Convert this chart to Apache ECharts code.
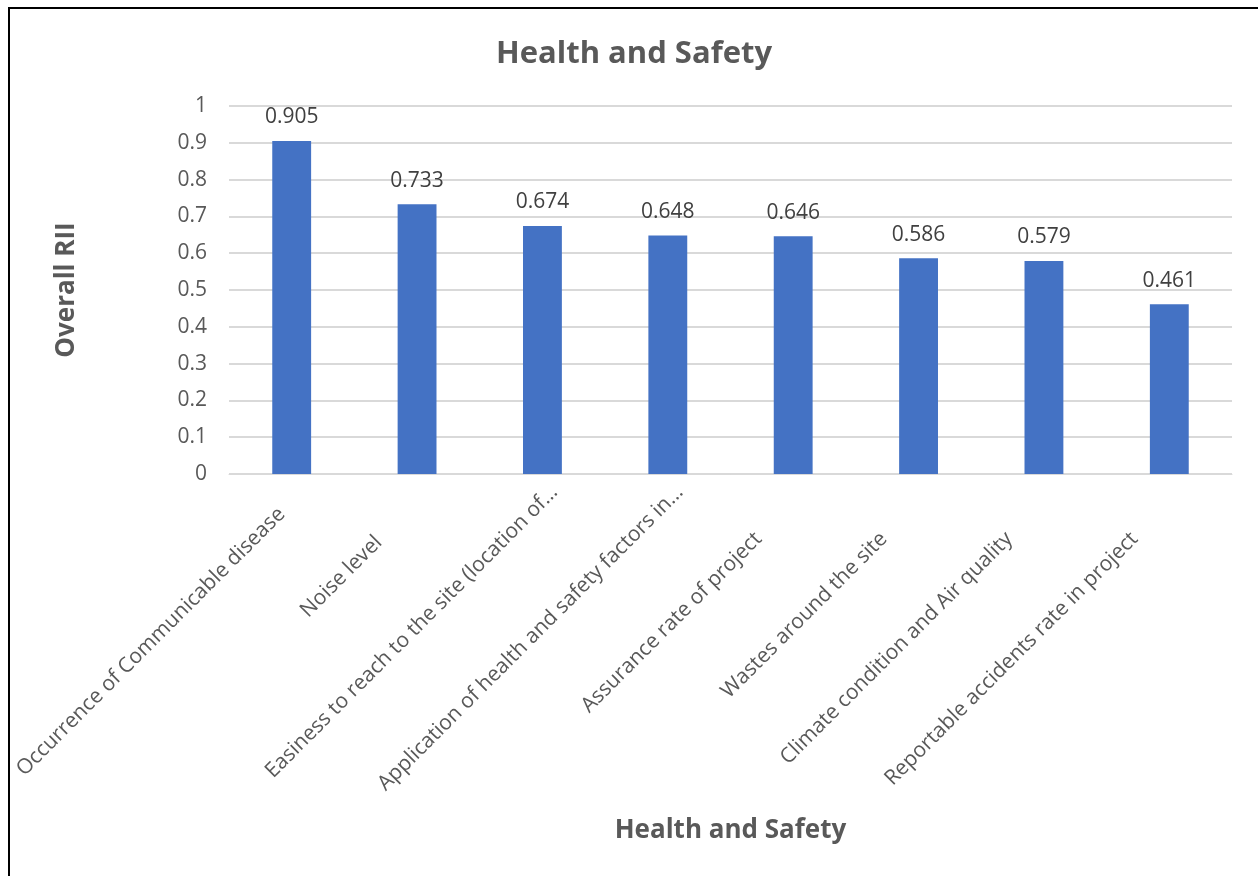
<!DOCTYPE html>
<html>
<head>
<meta charset="utf-8">
<script src="https://cdn.jsdelivr.net/npm/echarts@6/dist/echarts.min.js"></script>
<style>
  html, body { margin: 0; padding: 0; background: #ffffff; }
  #chart { width: 1258px; height: 876px; }
</style>
</head>
<body>
<div id="chart"></div>
<script>
// Health and safety factors with their overall RII scores
const categories = [
  'Occurrence of Communicable disease',
  'Noise level',
  'Easiness to reach to the site (location of…',
  'Application of health and safety factors in…',
  'Assurance rate of project',
  'Wastes around the site',
  'Climate condition and Air quality',
  'Reportable accidents rate in project'
];
const rii = [0.905, 0.733, 0.674, 0.648, 0.646, 0.586, 0.579, 0.461];
const yTicks = [0, 0.1, 0.2, 0.3, 0.4, 0.5, 0.6, 0.7, 0.8, 0.9, 1];

// Slanted category labels: how far each one is pulled back along its own direction (px)
const labelPullBack = [31, 71, 0, 0, 66, 66, 66, 66];

const FONT = '"Open Sans", "Noto Sans", sans-serif';
const chart = echarts.init(document.getElementById('chart'), null, { renderer: 'canvas' });

const labelStyle = {
  interval: 0,
  rotate: 45,
  margin: 15,
  verticalAlign: 'top',
  lineHeight: 55,
  fontFamily: FONT,
  fontSize: 21,
  color: '#595959'
};

chart.setOption({
  backgroundColor: '#ffffff',
  animation: false,
  title: {
    text: 'Health and Safety',
    left: 491,
    top: 34,
    textStyle: { fontFamily: FONT, fontSize: 31, fontWeight: 'bold', color: '#595959' }
  },
  grid: [
    // plot area
    { left: 229, right: 26, top: 106, bottom: 402, containLabel: false, outerBoundsMode: 'none' },
    // same band layout, nudged right, carrying the slanted category labels
    { left: 241, right: 14, top: 106, bottom: 402, containLabel: false, outerBoundsMode: 'none' }
  ],
  xAxis: [{
    type: 'category',
    gridIndex: 0,
    data: categories,
    name: 'Health and Safety',
    nameLocation: 'middle',
    nameGap: 344,
    nameTextStyle: { fontFamily: FONT, fontSize: 26, fontWeight: 'bold', color: '#595959' },
    axisLine: { show: true, lineStyle: { color: '#d9d9d9', width: 1 } },
    axisTick: { show: false },
    axisLabel: { show: false }
  }, {
    type: 'category',
    gridIndex: 1,
    data: categories.map((c, i) => ({
      value: c,
      textStyle: { padding: [0, labelPullBack[i], 0, 0] }
    })),
    axisLine: { show: false },
    axisTick: { show: false },
    splitLine: { show: false },
    axisLabel: labelStyle
  }],
  yAxis: [{
    type: 'value',
    gridIndex: 0,
    min: 0,
    max: 1,
    interval: 0.1,
    name: 'Overall RII',
    nameLocation: 'middle',
    nameGap: 149,
    nameRotate: 90,
    nameTextStyle: { fontFamily: FONT, fontSize: 26, fontWeight: 'bold', color: '#595959' },
    axisLine: { show: false },
    axisTick: { show: false },
    splitLine: { show: true, lineStyle: { color: '#d9d9d9', width: 2 } },
    axisLabel: {
      margin: 22,
      fontFamily: FONT,
      fontSize: 21,
      color: '#595959',
      formatter: v => {
        const t = yTicks.find(k => Math.abs(k - v) < 1e-9);
        return t === undefined ? '' : String(t);
      }
    }
  }, {
    type: 'value',
    gridIndex: 1,
    min: 0,
    max: 1,
    interval: 0.1,
    show: false,
    splitLine: { show: false }
  }],
  series: [{
    type: 'bar',
    xAxisIndex: 0,
    yAxisIndex: 0,
    data: rii,
    barWidth: '31%',
    itemStyle: { color: '#4472c4' },
    label: {
      show: true,
      position: 'top',
      distance: 13,
      fontFamily: FONT,
      fontSize: 21,
      color: '#404040',
      formatter: p => p.value.toFixed(3)
    }
  }],
  graphic: [
    { type: 'line', shape: { x1: 8, y1: 8, x2: 1258, y2: 8 }, style: { stroke: '#000000', lineWidth: 2 } },
    { type: 'line', shape: { x1: 9, y1: 8, x2: 9, y2: 876 }, style: { stroke: '#000000', lineWidth: 2 } }
  ]
});
</script>
</body>
</html>
